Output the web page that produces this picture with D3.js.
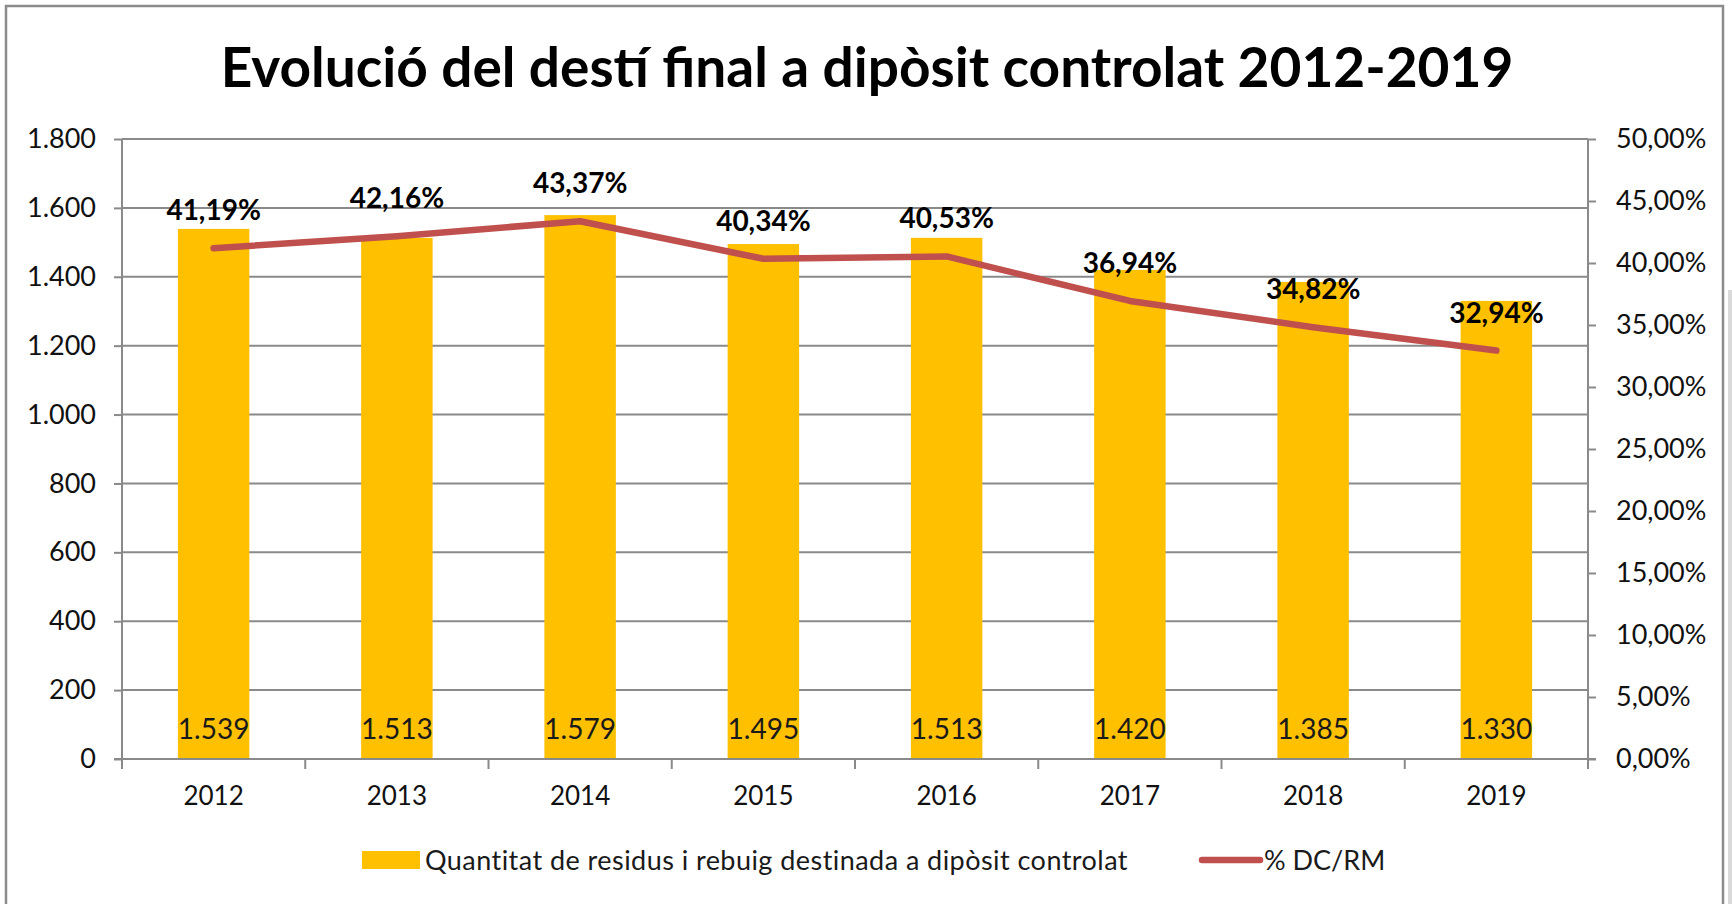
<!DOCTYPE html>
<meta charset="utf-8">
<style>
body { margin: 0; background: #fff; }
svg text { font-family: Lato, "Open Sans", sans-serif; fill: #000; }
.grid line { stroke: #8a8a8a; stroke-width: 2; }
.axis path, .axis line { stroke: #8a8a8a; stroke-width: 2; }
.axis text { font-size: 27px; fill: #111; }
</style>
<svg class="chart" width="1732" height="904"></svg>
<script src="https://cdn.jsdelivr.net/npm/d3@7"></script>
<script>

let years = ["2012", "2013", "2014", "2015", "2016", "2017", "2018", "2019"];
let tonnes = [1539, 1513, 1579, 1495, 1513, 1420, 1385, 1330];
let pctDC = [41.19, 42.16, 43.37, 40.34, 40.53, 36.94, 34.82, 32.94];
let leftTicks = [0, 200, 400, 600, 800, 1000, 1200, 1400, 1600, 1800];
let rightTicks = [0, 5, 10, 15, 20, 25, 30, 35, 40, 45, 50];

let title = "Evolució del destí final a dipòsit controlat 2012-2019";
let barName = "Quantitat de residus i rebuig destinada a dipòsit controlat";
let lineName = "% DC/RM";

let cat = d3.formatLocale({ decimal: ",", thousands: ".", grouping: [3], currency: ["", " €"] });
let fmtInt = cat.format(",d");
let fmtPct = v => cat.format(".2f")(v) + "%";

let margin = { top: 139, left: 122, right: 144, bottom: 145 };
let W = 1732, H = 904;
let width = W - margin.left - margin.right,
    height = H - margin.top - margin.bottom;

let svg = d3.select(".chart");

// outer frame
svg.append("rect")
    .attr("x", 6).attr("y", 6)
    .attr("width", 1717).attr("height", 920)
    .attr("fill", "none")
    .attr("stroke", "#8c8c8c")
    .attr("stroke-width", 2.5);

svg.append("rect")
    .attr("x", 1728).attr("y", 290)
    .attr("width", 4).attr("height", 614)
    .attr("fill", "#d9d9d9");

let g = svg.append("g")
    .attr("transform", "translate(" + margin.left + "," + margin.top + ")");

let x = d3.scaleBand()
    .domain(years)
    .range([0, width])
    .paddingInner(0.61)
    .paddingOuter(0.305);

let y = d3.scaleLinear()
    .domain([0, 1800])
    .range([height, 0]);

let y2 = d3.scaleLinear()
    .domain([0, 50])
    .range([height, 0]);

// gridlines
g.append("g")
    .attr("class", "grid")
  .selectAll("line")
  .data(leftTicks.slice(1))
  .enter().append("line")
    .attr("x1", 0)
    .attr("x2", width)
    .attr("y1", d => y(d))
    .attr("y2", d => y(d));

// bars
g.selectAll(".bar")
  .data(tonnes)
  .enter().append("rect")
    .attr("class", "bar")
    .attr("x", (d, i) => x(years[i]))
    .attr("y", d => y(d))
    .attr("width", x.bandwidth())
    .attr("height", d => height - y(d))
    .attr("fill", "#ffc000");

// left axis
g.append("g")
    .attr("class", "axis")
    .call(d3.axisLeft(y).tickValues(leftTicks).tickFormat(fmtInt).tickSize(8).tickPadding(18))
    .call(a => a.select(".domain").attr("d", "M0," + height + "V0"));

// right axis
g.append("g")
    .attr("class", "axis")
    .attr("transform", "translate(" + width + ",0)")
    .call(d3.axisRight(y2).tickValues(rightTicks).tickFormat(fmtPct).tickSize(8).tickPadding(20))
    .call(a => a.select(".domain").attr("d", "M0," + height + "V0"));

// bottom axis, ticks on the band edges
let xAxis = g.append("g")
    .attr("class", "axis")
    .attr("transform", "translate(0," + height + ")");

xAxis.append("line")
    .attr("x1", -8).attr("x2", width + 8)
    .attr("y1", 0).attr("y2", 0);

xAxis.selectAll(".edge")
  .data(d3.range(years.length + 1))
  .enter().append("line")
    .attr("class", "edge")
    .attr("x1", i => i * x.step())
    .attr("x2", i => i * x.step())
    .attr("y1", 0)
    .attr("y2", 10);

xAxis.selectAll(".yr")
  .data(years)
  .enter().append("text")
    .attr("class", "yr")
    .attr("x", d => x(d) + x.bandwidth() / 2)
    .attr("y", 46)
    .attr("text-anchor", "middle")
    .style("font-size", "26px")
    .text(d => d);

// values inside bars
g.selectAll(".val")
  .data(tonnes)
  .enter().append("text")
    .attr("class", "val")
    .attr("x", (d, i) => x(years[i]) + x.bandwidth() / 2)
    .attr("y", height - 20)
    .attr("text-anchor", "middle")
    .style("font-size", "28px")
    .style("fill", "#1a1a1a")
    .text(d => fmtInt(d));

// line
let line = d3.line()
    .x((d, i) => x(years[i]) + x.bandwidth() / 2)
    .y(d => y2(d));

g.append("path")
    .datum(pctDC)
    .attr("d", line)
    .attr("fill", "none")
    .attr("stroke", "#c0504d")
    .attr("stroke-width", 6.5)
    .attr("stroke-linecap", "round")
    .attr("stroke-linejoin", "round");

g.selectAll(".pct")
  .data(pctDC)
  .enter().append("text")
    .attr("class", "pct")
    .attr("x", (d, i) => x(years[i]) + x.bandwidth() / 2)
    .attr("y", d => y2(d) - 28)
    .attr("text-anchor", "middle")
    .style("font-size", "28px")
    .style("font-weight", "bold")
    .text(d => fmtPct(d));

// title
svg.append("text")
    .attr("x", 867)
    .attr("y", 87)
    .attr("text-anchor", "middle")
    .style("font-size", "55px")
    .style("font-weight", "bold")
    .text(title);

// legend
let leg = svg.append("g").attr("transform", "translate(0,860)");

leg.append("rect")
    .attr("x", 362).attr("y", -9)
    .attr("width", 58).attr("height", 18)
    .attr("fill", "#ffc000");

leg.append("text")
    .attr("x", 425).attr("y", 10)
    .style("font-size", "27px")
    .style("letter-spacing", "0.45px")
    .style("fill", "#1a1a1a")
    .text(barName);

leg.append("line")
    .attr("x1", 1202).attr("x2", 1260)
    .attr("y1", 0).attr("y2", 0)
    .attr("stroke", "#c0504d")
    .attr("stroke-width", 6.5)
    .attr("stroke-linecap", "round");

leg.append("text")
    .attr("x", 1264).attr("y", 10)
    .style("font-size", "27px")
    .style("fill", "#1a1a1a")
    .text(lineName);

</script>
